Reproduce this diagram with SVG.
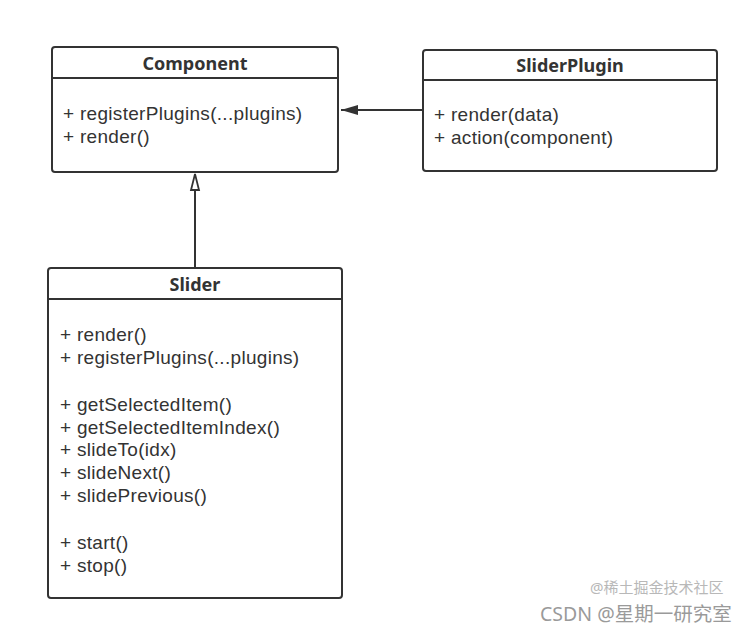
<svg xmlns="http://www.w3.org/2000/svg" width="749" height="629" viewBox="0 0 749 629">
<style>
.box{fill:#fff;stroke:#333;stroke-width:2}
.div{stroke:#333;stroke-width:2}
.t{font-family:"Liberation Sans",Arial,sans-serif;font-size:19px;letter-spacing:0.3px;fill:#333}
.h{font-family:"Noto Sans","Open Sans",sans-serif;font-size:18px;font-weight:bold;fill:#333;text-anchor:middle}
.c{stroke:#333;stroke-width:2;fill:none}
.wm{font-family:"Noto Sans","Noto Sans CJK SC",sans-serif}
</style>
<defs>
<marker id="fill" markerWidth="18" markerHeight="12" refX="17" refY="6" orient="auto" markerUnits="userSpaceOnUse">
<path d="M0,1 L17,6 L0,11 Z" fill="#333"/>
</marker>
</defs>
<rect width="749" height="629" fill="#fff"/>
<g id="connectors">
<path class="c" d="M423,110 L341,110" marker-end="url(#fill)"/>
<path class="c" d="M195,268 L195,174"/>
<path d="M195,174 L199,190 L191,190 Z" fill="#fff" stroke="#333" stroke-width="1.8"/>
</g>
<g id="Component">
<rect class="box" x="52" y="47" width="286" height="125" rx="3"/>
<line class="div" x1="52" y1="78" x2="338" y2="78"/>
<text class="h" x="195" y="70">Component</text>
<text class="t" x="63" y="120">+ registerPlugins(...plugins)</text>
<text class="t" x="63" y="143">+ render()</text>
</g>
<g id="SliderPlugin">
<rect class="box" x="423" y="50" width="294" height="121" rx="3"/>
<line class="div" x1="423" y1="80" x2="717" y2="80"/>
<text class="h" x="570" y="72">SliderPlugin</text>
<text class="t" x="434" y="121">+ render(data)</text>
<text class="t" x="434" y="144">+ action(component)</text>
</g>
<g id="Slider">
<rect class="box" x="48" y="268" width="294" height="330" rx="3"/>
<line class="div" x1="48" y1="299" x2="342" y2="299"/>
<text class="h" x="195" y="291">Slider</text>
<text class="t" x="60" y="341">+ render()</text>
<text class="t" x="60" y="364">+ registerPlugins(...plugins)</text>
<text class="t" x="60" y="411">+ getSelectedItem()</text>
<text class="t" x="60" y="434">+ getSelectedItemIndex()</text>
<text class="t" x="60" y="456">+ slideTo(idx)</text>
<text class="t" x="60" y="479">+ slideNext()</text>
<text class="t" x="60" y="502">+ slidePrevious()</text>
<text class="t" x="60" y="549">+ start()</text>
<text class="t" x="60" y="572">+ stop()</text>
</g>
<text class="wm" x="540" y="621" font-size="19.5" fill="#9a9a9a">CSDN @星期一研究室</text>
<text class="wm" x="590" y="593" font-size="15" fill="#b8b8b8">@稀土掘金技术社区</text>
</svg>
